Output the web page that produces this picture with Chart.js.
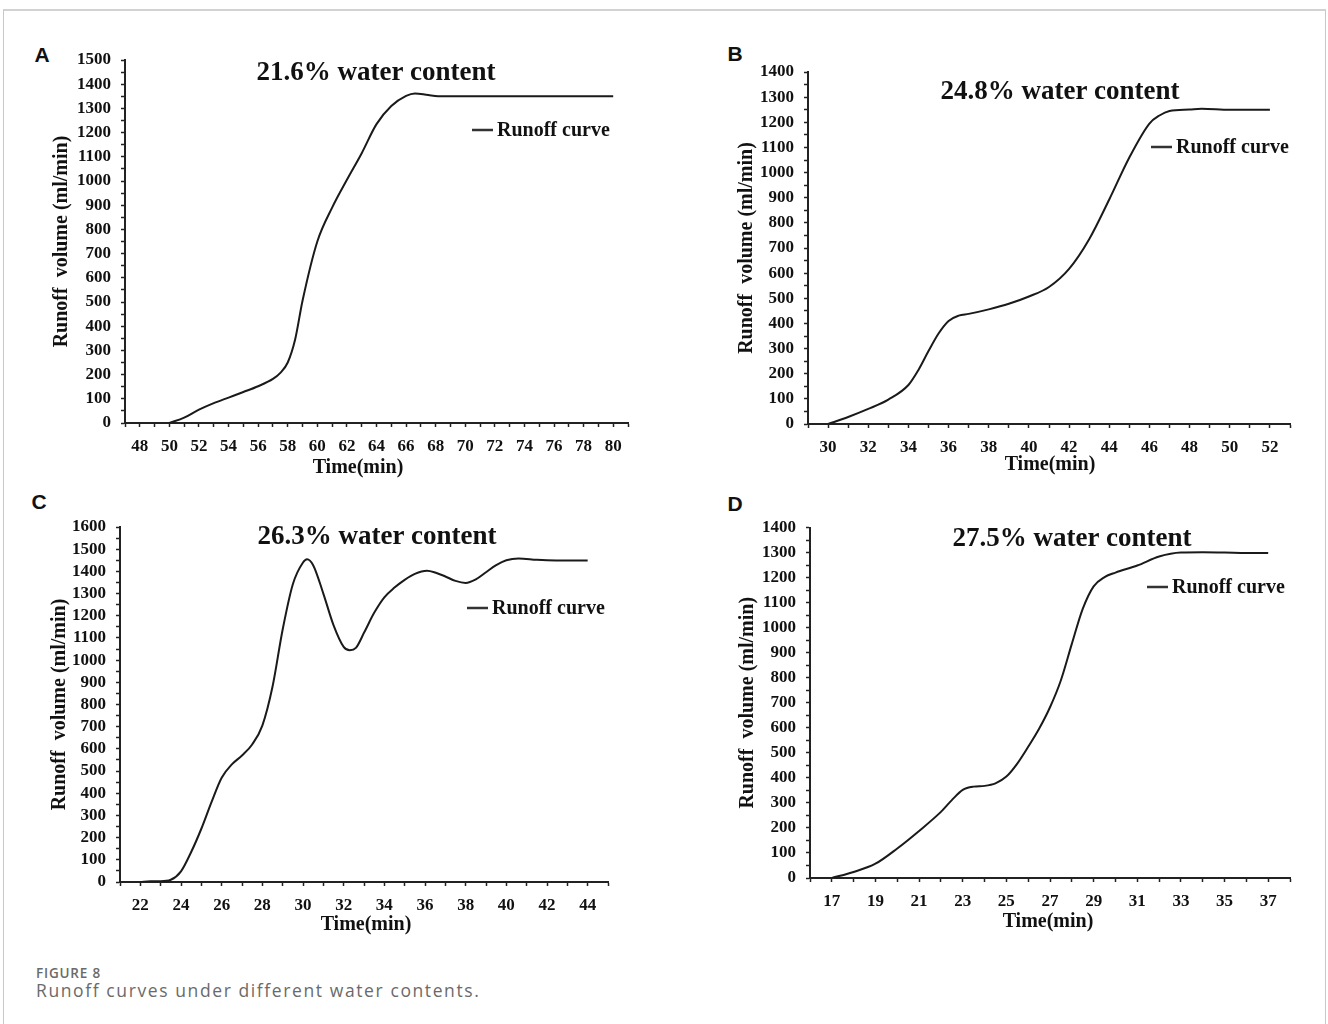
<!DOCTYPE html>
<html lang="en">
<head>
  <meta charset="UTF-8" />
  <title>Runoff curves under different water contents</title>
  <script src="https://cdn.jsdelivr.net/npm/chart.js"></script>
  <style>
    body {
      margin: 0;
      background: #fff;
    }
    .page {
      position: relative;
      width: 1328px;
      height: 1024px;
      overflow: hidden;
    }
    .frame {
      position: absolute;
      left: 3px;
      top: 9px;
      width: 1321px;
      height: 1100px;
      border: 1px solid #c8c8c8;
      border-top: 2px solid #d2d2d2;
    }
    canvas {
      position: absolute;
    }
    .letter {
      position: absolute;
      font: bold 21px "Liberation Sans", Arial, sans-serif;
      color: #111;
      line-height: 1;
      transform: translate(-50%, -50%);
    }
    .cap1, .cap2 {
      position: absolute;
      left: 36px;
      font-family: "Open Sans", sans-serif;
      color: #6a6a6a;
      line-height: 1;
      white-space: nowrap;
      transform: translateY(-50%);
    }
    .cap1 { top: 974px; font-size: 13.5px; font-weight: 600; letter-spacing: 0.8px; }
    .cap2 { top: 991px; font-size: 17.5px; font-weight: 400; letter-spacing: 1.6px; }
  </style>
</head>
<body>
  <div class="page" id="page">
    <div class="frame"></div>
    <div class="letter" style="left:42px; top:54px;">A</div>
    <div class="letter" style="left:735px; top:53px;">B</div>
    <div class="letter" style="left:39px; top:501px;">C</div>
    <div class="letter" style="left:735px; top:503px;">D</div>
    <div class="cap1">FIGURE 8</div>
    <div class="cap2">Runoff curves under different water contents.</div>
  </div>

  <script>
    // panel A - 21.6% water content
    const timesA = [50, 51, 52, 53, 54, 55, 56, 57, 57.5, 58, 58.5, 59, 60, 61, 62, 63, 64, 65, 66, 66.6, 67.5, 68.5, 70, 72, 74, 76, 78, 80];
    const runoffA = [0, 22, 55, 82, 105, 128, 152, 182, 207, 250, 345, 505, 750, 890, 1005, 1115, 1235, 1310, 1352, 1362, 1355, 1350, 1350, 1350, 1350, 1350, 1350, 1350];
    const xLabelsA = [48, 50, 52, 54, 56, 58, 60, 62, 64, 66, 68, 70, 72, 74, 76, 78, 80];

    // panel B - 24.8% water content
    const timesB = [30, 31, 32, 33, 34, 34.5, 35, 35.5, 36, 36.5, 37, 38, 39, 40, 41, 42, 43, 44, 45, 46, 46.5, 47, 48, 48.6, 50, 51, 52];
    const runoffB = [0, 28, 60, 97, 155, 215, 290, 360, 410, 431, 438, 456, 478, 507, 545, 617, 735, 893, 1060, 1195, 1227, 1245, 1251, 1254, 1250, 1250, 1250];
    const xLabelsB = [30, 32, 34, 36, 38, 40, 42, 44, 46, 48, 50, 52];

    // panel C - 26.3% water content
    const timesC = [22, 22.5, 23, 23.5, 24, 24.5, 25, 25.5, 26, 26.5, 27, 27.5, 28, 28.5, 29, 29.5, 30, 30.2, 30.5, 31, 31.5, 32, 32.3, 32.6, 33, 33.5, 34, 34.5, 35, 35.5, 36.1, 36.5, 37, 37.5, 38, 38.5, 39, 39.5, 40, 40.6, 41.5, 42, 43, 44];
    const runoffC = [0, 3, 3, 10, 48, 135, 240, 360, 470, 530, 570, 620, 705, 880, 1138, 1342, 1440, 1455, 1428, 1300, 1158, 1060, 1045, 1055, 1123, 1213, 1283, 1327, 1362, 1389, 1403, 1395, 1377, 1357, 1348, 1364, 1396, 1428, 1450, 1458, 1452, 1450, 1449, 1449];
    const xLabelsC = [22, 24, 26, 28, 30, 32, 34, 36, 38, 40, 42, 44];

    // panel D - 27.5% water content
    const timesD = [17, 18, 19, 20, 21, 22, 22.5, 23, 23.5, 24, 24.5, 25, 25.5, 26, 26.5, 27, 27.5, 28, 28.5, 29, 29.5, 30, 31, 32, 33, 34, 35, 36, 37];
    const runoffD = [0, 24, 57, 118, 188, 264, 311, 352, 365, 368, 378, 405, 457, 524, 596, 682, 790, 935, 1075, 1165, 1202, 1220, 1248, 1284, 1300, 1301, 1300, 1298, 1298];
    const xLabelsD = [17, 19, 21, 23, 25, 27, 29, 31, 33, 35, 37];

    const SERIF = '"Liberation Serif", "Times New Roman", serif';
    Chart.defaults.font.family = SERIF;
    Chart.defaults.font.weight = 'bold';
    Chart.defaults.color = '#111';

    // draws the in-plot title, the legend and the x axis title
    const panelText = {
      id: 'panelText',
      afterDraw(chart, args, o) {
        const ctx = chart.ctx;
        ctx.save();
        ctx.fillStyle = '#111';
        ctx.textBaseline = 'middle';

        ctx.font = 'bold 27px ' + SERIF;
        ctx.textAlign = 'center';
        ctx.fillText(o.title, o.titleX, o.titleY);

        ctx.strokeStyle = '#333';
        ctx.lineWidth = 2.5;
        ctx.beginPath();
        ctx.moveTo(o.legX, o.legY);
        ctx.lineTo(o.legX + 21, o.legY);
        ctx.stroke();
        ctx.font = 'bold 20px ' + SERIF;
        ctx.textAlign = 'left';
        ctx.fillText(chart.data.datasets[0].label, o.legX + 25, o.legY + 1);

        ctx.textAlign = 'center';
        ctx.fillText('Time(min)', o.xTitleX, o.xTitleY);
        ctx.restore();
      }
    };

    function makePanel(box, title, times, values, xLabels, xMin, xMax, yMax) {
      const cl = Math.floor(box.yTitleX - 12);
      const ct = Math.floor(box.top - 25);
      const cr = Math.ceil(box.right + 25);
      const cb = Math.ceil(box.xTitleY + 20);

      const canvas = document.createElement('canvas');
      canvas.width = cr - cl;
      canvas.height = cb - ct;
      canvas.style.left = cl + 'px';
      canvas.style.top = ct + 'px';
      document.getElementById('page').appendChild(canvas);

      new Chart(canvas, {
        type: 'line',
        data: {
          datasets: [{
            label: 'Runoff curve',
            data: times.map((t, i) => ({ x: t, y: values[i] })),
            borderColor: '#1a1a1a',
            borderWidth: 2,
            pointRadius: 0,
            fill: false,
            cubicInterpolationMode: 'monotone'
          }]
        },
        options: {
          responsive: false,
          animation: false,
          layout: { padding: { left: 0, top: box.top - ct, right: cr - box.right, bottom: 0 } },
          plugins: {
            legend: { display: false },
            tooltip: { enabled: false },
            panelText: {
              title: title,
              titleX: box.titleX - cl, titleY: box.titleY - ct,
              legX: box.legX - cl, legY: box.legY - ct,
              xTitleX: box.xTitleX - cl, xTitleY: box.xTitleY - ct
            }
          },
          scales: {
            x: {
              type: 'linear',
              min: xMin,
              max: xMax,
              afterFit: s => { s.height = cb - box.bottom; },
              ticks: {
                stepSize: 1,
                autoSkip: false,
                maxRotation: 0,
                padding: 9,
                font: { size: 17 },
                callback: v => xLabels.includes(v) ? String(v) : ''
              },
              grid: { drawOnChartArea: false, drawTicks: true, tickLength: 4, tickColor: '#222', tickWidth: 1.5 },
              border: { display: true, color: '#222', width: 2 }
            },
            y: {
              min: 0,
              max: yMax,
              afterFit: s => { s.width = box.left - cl; },
              ticks: {
                stepSize: 50,
                autoSkip: false,
                padding: 10,
                font: { size: 17 },
                callback: v => v % 100 === 0 ? String(v) : ''
              },
              grid: { drawOnChartArea: false, drawTicks: true, tickLength: 4, tickColor: '#222', tickWidth: 1.5 },
              border: { display: true, color: '#222', width: 2 },
              title: {
                display: true,
                text: 'Runoff  volume (ml/min)',
                font: { size: 20 },
                padding: { top: box.yTitleX - 12 - cl, bottom: 0 }
              }
            }
          }
        },
        plugins: [panelText]
      });
    }

    makePanel({ left: 125, right: 628, top: 60, bottom: 423, yTitleX: 61.5, xTitleX: 358, xTitleY: 468, titleX: 376, titleY: 73, legX: 472, legY: 130 },
      '21.6% water content', timesA, runoffA, xLabelsA, 47, 81, 1500);
    makePanel({ left: 808, right: 1290, top: 72, bottom: 424, yTitleX: 747, xTitleX: 1050, xTitleY: 465, titleX: 1060, titleY: 92, legX: 1151, legY: 147 },
      '24.8% water content', timesB, runoffB, xLabelsB, 29, 53, 1400);
    makePanel({ left: 120, right: 608, top: 527, bottom: 882, yTitleX: 60, xTitleX: 366, xTitleY: 925, titleX: 377, titleY: 537, legX: 467, legY: 608 },
      '26.3% water content', timesC, runoffC, xLabelsC, 21, 45, 1600);
    makePanel({ left: 810, right: 1290, top: 527.5, bottom: 878, yTitleX: 748, xTitleX: 1048, xTitleY: 922, titleX: 1072, titleY: 539, legX: 1147, legY: 587 },
      '27.5% water content', timesD, runoffD, xLabelsD, 16, 38, 1400);
  </script>
</body>
</html>
